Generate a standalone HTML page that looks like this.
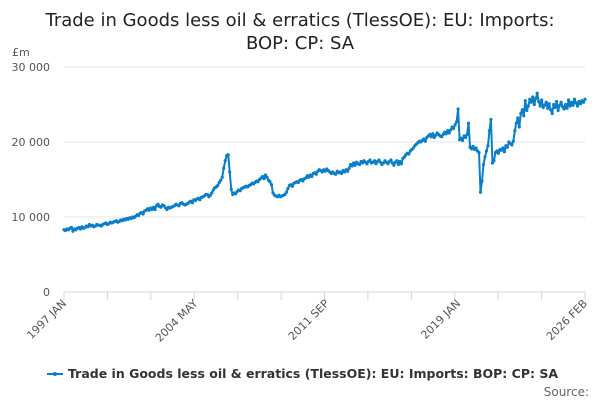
<!DOCTYPE html>
<html><head><meta charset="utf-8"><style>
body{margin:0;background:#fff;}
svg{display:block;font-family:"DejaVu Sans","Liberation Sans",sans-serif;}
</style></head><body>
<svg id="chart" width="600" height="400">
<text x="300" y="26" text-anchor="middle" font-size="18" fill="#222">Trade in Goods less oil &amp; erratics (TlessOE): EU: Imports:</text>
<text x="300" y="49" text-anchor="middle" font-size="18" fill="#222">BOP: CP: SA</text>
<text x="12" y="56" font-size="11" fill="#555">£m</text>
<g id="grid"></g><g id="xaxis"></g><g id="series"></g>
<g>
<line x1="47" y1="374" x2="63" y2="374" stroke="#0b7ec5" stroke-width="2"/>
<circle cx="55" cy="374" r="2" fill="#0b7ec5"/>
<text x="68" y="378" font-size="12.5" font-weight="bold" fill="#333">Trade in Goods less oil &amp; erratics (TlessOE): EU: Imports: BOP: CP: SA</text>
</g>
<text x="589" y="396" text-anchor="end" font-size="12" fill="#666">Source:</text>
</svg>
<script>
const yTicks=[0,10000,20000,30000];
const yTickLabels=["0","10 000","20 000","30 000"];
const xTickLabels=["1997 JAN","2004 MAY","2011 SEP","2019 JAN","2026 FEB"];
const xTickLabelIdx=[0,88,176,264,349];
const values=[
8300,8200,8400,8300,8500,8600,8100,8400,8300,8500,8600,8400,
8700,8500,8600,8800,8700,9000,8800,8900,8700,8800,9000,8900,
8900,8800,9000,9100,9200,9000,9100,9300,9200,9300,9400,9500,
9300,9400,9600,9500,9700,9600,9800,9700,9900,9800,10000,9900,
10100,10300,10200,10500,10600,10400,10800,10900,11100,10900,11200,11000,
11300,11000,11500,11700,11400,11300,11600,11500,11200,11000,11300,11200,
11300,11400,11500,11700,11600,11500,11800,11900,11700,11600,11700,11800,
12000,12100,11900,12300,12200,12400,12500,12300,12600,12700,12800,13000,
13000,12700,12900,13200,13600,13900,14000,14200,14600,14900,15300,16500,
17500,18200,18300,16000,13700,13000,13200,13100,13400,13600,13500,13800,
13900,14000,14100,14000,14200,14300,14500,14400,14600,14800,14700,15000,
15200,15400,15100,15600,15300,14900,14700,14300,13200,12900,12800,12700,
12900,12700,12800,12900,13000,13300,13800,14200,14300,14100,14500,14600,
14700,14600,14900,15000,14800,15100,15200,15500,15300,15600,15400,15800,
15900,15700,16100,16300,16200,16000,16300,16100,16400,16200,16000,15800,
16000,15800,15700,16100,15900,16000,15800,16200,16000,16300,16100,16500,
17000,16800,17200,16900,17300,17100,17000,17400,17200,17500,17300,17100,
17400,17600,17200,17300,17500,17100,17400,17600,17300,17000,17200,17500,
17300,17100,17400,17600,17200,16900,17300,17500,17000,17400,17100,17800,
18000,18300,18500,18400,18800,19000,19200,19500,19700,19900,20100,20000,
20200,20400,20100,20600,20800,21000,20700,21100,20600,20900,21200,21000,
20800,20700,21000,21300,21100,21500,21200,21600,22000,21800,22300,22700,
24400,20300,20500,20200,20800,20600,21000,22500,19300,19100,19400,19000,
19200,18800,18600,13300,14800,17000,18000,18800,19500,21500,23000,17200,
17500,18600,18800,18500,19000,18900,19200,18700,19500,19300,20000,19800,
19600,20100,21500,22500,23200,22000,23800,24300,23500,25500,24200,24800,
25700,25300,26000,25000,25800,26500,25400,24800,25600,24600,24900,25300,
24500,25100,24300,23800,25000,24600,25400,24200,24900,25300,24700,24400,
25000,24500,25600,24800,25300,24900,25700,25200,24800,25400,25100,25500,
25300,25700];
const NS="http://www.w3.org/2000/svg";
const X0=64,X1=585,Y0=292,Y1=67;
const n=values.length;
function xs(i){return X0+(X1-X0)*i/(n-1);}
function ys(v){return Y0-(Y0-Y1)*v/30000;}
function mk(t,a,p){const e=document.createElementNS(NS,t);for(const k in a)e.setAttribute(k,a[k]);p.appendChild(e);return e;}
const grid=document.getElementById('grid');
yTicks.forEach((t,i)=>{
 if(t>0){const l=mk('line',{x1:X0,x2:X1,y1:ys(t),y2:ys(t),stroke:'#e3e3e3','stroke-width':1},grid);
 
 }
 const tx=mk('text',{x:50,y:ys(t)+4,'text-anchor':'end','font-size':11,fill:'#555'},grid);
 tx.textContent=yTickLabels[i];
 
 
});
const xa=document.getElementById('xaxis');
const ax=mk('line',{x1:X0,x2:X1,y1:Y0,y2:Y0,stroke:'#ccd6eb','stroke-width':1},xa);


for(let k=0;k<=12;k++){const x=X0+(X1-X0)*k/12;
 const t=mk('line',{x1:x,x2:x,y1:Y0,y2:Y0+8,stroke:'#ccd6eb'},xa);
 
 }
xTickLabels.forEach((s,i)=>{const x=xs(xTickLabelIdx[i]);
 const t=mk('text',{x:x+3,y:Y0+12,'text-anchor':'end','font-size':11,fill:'#555',transform:`rotate(-45 ${x+3} ${Y0+12})`},xa);
 t.textContent=s;
 
 });
const sg=document.getElementById('series');
const p=mk('path',{d:values.map((v,i)=>(i?'L':'M')+xs(i).toFixed(2)+' '+ys(v).toFixed(2)).join(''),fill:'none',stroke:'#0b7ec5','stroke-width':2,'stroke-linejoin':'round'},sg);


values.forEach((v,i)=>{const c=mk('circle',{cx:xs(i),cy:ys(v),r:1.6,fill:'#0b7ec5'},sg);
 
 });
</script>
</body></html>
